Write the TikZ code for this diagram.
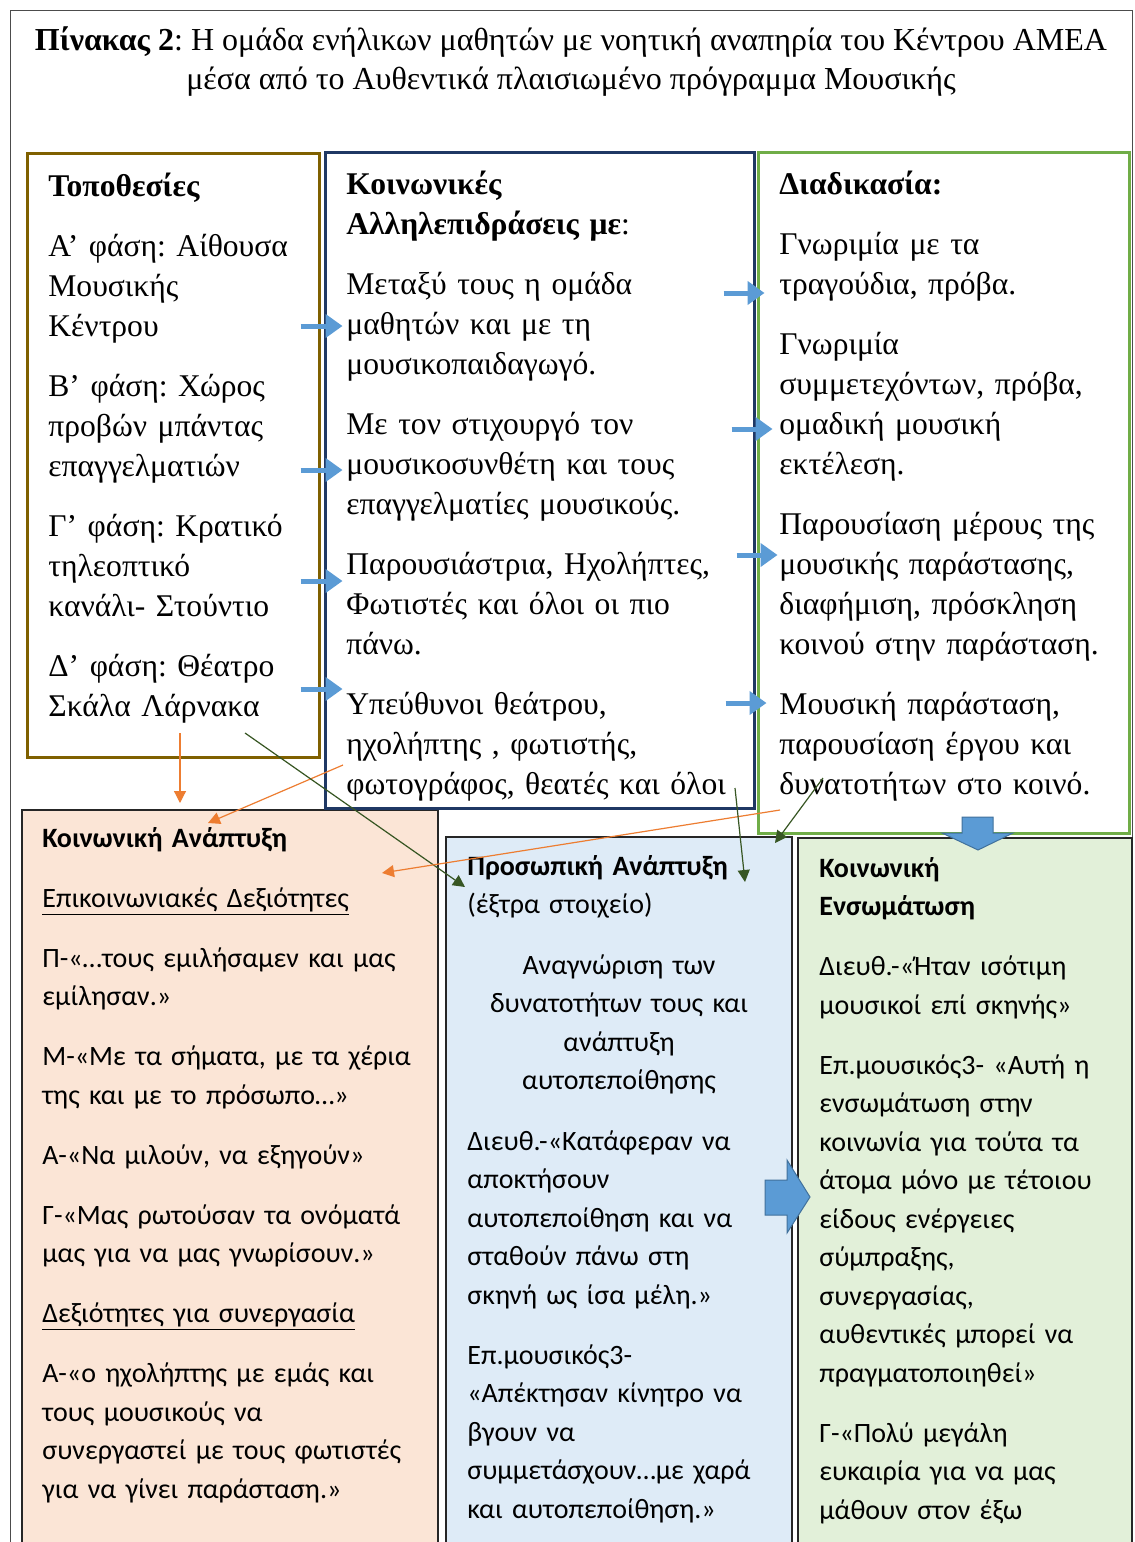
\documentclass[tikz,border=0pt]{standalone}
\usepackage{fontspec}
\setmainfont{Liberation Serif}
\newfontfamily\calibri{Carlito}
\usetikzlibrary{arrows.meta, positioning, fit}
\definecolor{locbrown}{HTML}{7F6000}
\definecolor{socnavy}{HTML}{1F3864}
\definecolor{procgreen}{HTML}{70AD47}
\definecolor{peach}{HTML}{FBE5D6}
\definecolor{paleblue}{HTML}{DEEBF7}
\definecolor{palegreen}{HTML}{E2F0D9}
\definecolor{arrowblue}{HTML}{5B9BD5}
\definecolor{arrowedge}{HTML}{41719C}
\definecolor{linkorange}{HTML}{ED7D31}
\definecolor{linkgreen}{HTML}{375623}
\frenchspacing
\tikzset{%
	top box/.style={draw=#1, line width=1.5pt, inner sep=0pt},
	low box/.style={draw=black!85, fill=#1, line width=0.6pt, inner sep=0pt},
	serif text/.style={anchor=base west, inner sep=0pt, text width=#1, align=left,
		font={\fontsize{15.8}{20}\selectfont}},
	sans text/.style={anchor=base west, inner sep=0pt, text width=#1, align=left,
		font={\calibri\fontsize{14}{19.25}\selectfont}},
	push arrow/.style={arrowblue, line width=2.5pt, -{Triangle[length=8.5pt, width=11.5pt]}},
	orange link/.style={linkorange, line width=0.6pt, -{Triangle[length=6pt, width=6pt]}},
	green link/.style={linkgreen, line width=0.6pt, -{Triangle[length=6pt, width=6pt]}},
	block arrow/.style={fill=arrowblue, draw=arrowedge, line width=0.5pt},
}
\begin{document}
\begin{tikzpicture}[x=0.5pt, y=-0.5pt]
			\useasboundingbox (0,0) rectangle (1135,1542);
			\fill[white] (0,0) rectangle (1135,1542);
			\clip (0,0) rectangle (1135,1542);
			
			% Outer frame
			\draw[black!70, line width=0.5pt] (10,10) rectangle (1132,1600);
			
			% Title
			\node[align=center, inner sep=0pt, font={\fontsize{16}{19.5}\selectfont}] (title) at (571,62)
				{\textbf{Πίνακας 2}: Η ομάδα ενήλικων μαθητών με νοητική αναπηρία του Κέντρου ΑΜΕΑ\\
				μέσα από το Αυθεντικά πλαισιωμένο πρόγραμμα Μουσικής};
			
			% Lower boxes
			\node[low box=peach, fit={(22,810) (438,1600)}] (socdev) {};
			\node[low box=paleblue, fit={(446,837) (792,1600)}] (persdev) {};
			\node[low box=palegreen, fit={(798,838) (1132,1600)}] (integ) {};
			
			% Upper boxes
			\node[top box=locbrown, fit={(27,153) (319,757)}] (loc) {};
			\node[top box=socnavy, fit={(325,152) (754,808)}] (soc) {};
			\node[top box=procgreen, fit={(758,152) (1129,833)}] (proc) {};
			
			% Upper texts
			\node[serif text=140pt] (loctext) at (48,196)
				{\textbf{Τοποθεσίες}\\[10pt]
				Α’ φάση: Αίθουσα\\ Μουσικής\\ Κέντρου\\[10pt]
				Β’ φάση: Χώρος\\ προβών μπάντας\\ επαγγελματιών\\[10pt]
				Γ’ φάση: Κρατικό\\ τηλεοπτικό\\ κανάλι- Στούντιο\\[10pt]
				Δ’ φάση: Θέατρο\\ Σκάλα Λάρνακα};
			\node[serif text=205pt] (soctext) at (346,194)
				{\textbf{Κοινωνικές}\\ \textbf{Αλληλεπιδράσεις με}:\\[10pt]
				Μεταξύ τους η ομάδα\\ μαθητών και με τη\\ μουσικοπαιδαγωγό.\\[10pt]
				Με τον στιχουργό τον\\ μουσικοσυνθέτη και τους\\ επαγγελματίες μουσικούς.\\[10pt]
				Παρουσιάστρια, Ηχολήπτες,\\ Φωτιστές και όλοι οι πιο\\ πάνω.\\[10pt]
				Υπεύθυνοι θεάτρου,\\ ηχολήπτης , φωτιστής,\\ φωτογράφος, θεατές και όλοι};
			\node[serif text=175pt] (proctext) at (779,194)
				{\textbf{Διαδικασία:}\\[10pt]
				Γνωριμία με τα\\ τραγούδια, πρόβα.\\[10pt]
				Γνωριμία\\ συμμετεχόντων, πρόβα,\\ ομαδική μουσική\\ εκτέλεση.\\[10pt]
				Παρουσίαση μέρους της\\ μουσικής παράστασης,\\ διαφήμιση, πρόσκληση\\ κοινού στην παράσταση.\\[10pt]
				Μουσική παράσταση,\\ παρουσίαση έργου και\\ δυνατοτήτων στο κοινό.};
			
			% Lower texts
			\node[sans text=195pt] (socdevtext) at (42,847)
				{\textbf{Κοινωνική Ανάπτυξη}\\[10.75pt]
				\underline{Επικοινωνιακές Δεξιότητες}\\[10.75pt]
				Π-«…τους εμιλήσαμεν και μας\\ εμίλησαν.»\\[10.75pt]
				Μ-«Με τα σήματα, με τα χέρια\\ της και με το πρόσωπο…»\\[10.75pt]
				Α-«Να μιλούν, να εξηγούν»\\[10.75pt]
				Γ-«Μας ρωτούσαν τα ονόματά\\ μας για να μας γνωρίσουν.»\\[10.75pt]
				\underline{Δεξιότητες για συνεργασία}\\[10.75pt]
				Α-«ο ηχολήπτης με εμάς και\\ τους μουσικούς να\\ συνεργαστεί με τους φωτιστές\\ για να γίνει παράσταση.»};
			\node[sans text=160pt] (persdevtext) at (467,875)
				{\textbf{Προσωπική Ανάπτυξη}\\ (έξτρα στοιχείο)};
			\node[sans text=160pt, anchor=base, align=center] (persdevaim) at (619,974)
				{Αναγνώριση των\\ δυνατοτήτων τους και\\ ανάπτυξη\\ αυτοπεποίθησης};
			\node[sans text=160pt] (persdevquotes) at (467,1150)
				{Διευθ.-«Κατάφεραν να\\ αποκτήσουν\\ αυτοπεποίθηση και να\\ σταθούν πάνω στη\\ σκηνή ως ίσα μέλη.»\\[10.75pt]
				Επ.μουσικός3-\\ «Απέκτησαν κίνητρο να\\ βγουν να\\ συμμετάσχουν…με χαρά\\ και αυτοπεποίθηση.»};
			\node[sans text=155pt] (integtext) at (819,877)
				{\textbf{Κοινωνική}\\ \textbf{Ενσωμάτωση}\\[10.75pt]
				Διευθ.-«Ήταν ισότιμη\\ μουσικοί επί σκηνής»\\[10.75pt]
				Επ.μουσικός3- «Αυτή η\\ ενσωμάτωση στην\\ κοινωνία για τούτα τα\\ άτομα μόνο με τέτοιου\\ είδους ενέργειες\\ σύμπραξης,\\ συνεργασίας,\\ αυθεντικές μπορεί να\\ πραγματοποιηθεί»\\[10.75pt]
				Γ-«Πολύ μεγάλη\\ ευκαιρία για να μας\\ μάθουν στον έξω};
			
			% Small arrows between the upper boxes
			\foreach \y in {326,470,581,689}
				\draw[push arrow] ([xshift=-10pt]loc.east |- 0,\y) -- ([xshift=11pt]loc.east |- 0,\y);
			\foreach \y/\d in {293/-16, 429/-12, 555/-9.5, 703/-15}
				\draw[push arrow] ([xshift=\d pt]soc.east |- 0,\y) -- ++(41,0);
			
			% Big block arrows
			\draw[block arrow] (962,817) -- (993,817) -- (993,833) -- (1013,833) -- (978,850)
				-- (942,833) -- (962,833) -- cycle;
			\draw[block arrow] (765,1180) -- (787,1180) -- (787,1160) -- (810,1197) -- (787,1233)
				-- (787,1215) -- (765,1215) -- cycle;
			
			% Thin links
			\coordinate (o1s) at (180,733);
			\coordinate (o1e) at (180,803);
			\coordinate (o2s) at (343,765);
			\coordinate (o2e) at (208,823);
			\coordinate (g1s) at (245,733);
			\coordinate (g1e) at (465,887);
			\coordinate (o3s) at (780,810);
			\coordinate (o3e) at (382,873);
			\coordinate (g2s) at (735,788);
			\coordinate (g2e) at (745,882);
			\coordinate (g3s) at (823,778);
			\coordinate (g3e) at (775,843);
			\draw[orange link] (o1s) -- (o1e);
			\draw[orange link] (o2s) -- (o2e);
			\draw[green link] (g1s) -- (g1e);
			\draw[orange link] (o3s) -- (o3e);
			\draw[green link] (g2s) -- (g2e);
			\draw[green link] (g3s) -- (g3e);
		\end{tikzpicture}
\end{document}
